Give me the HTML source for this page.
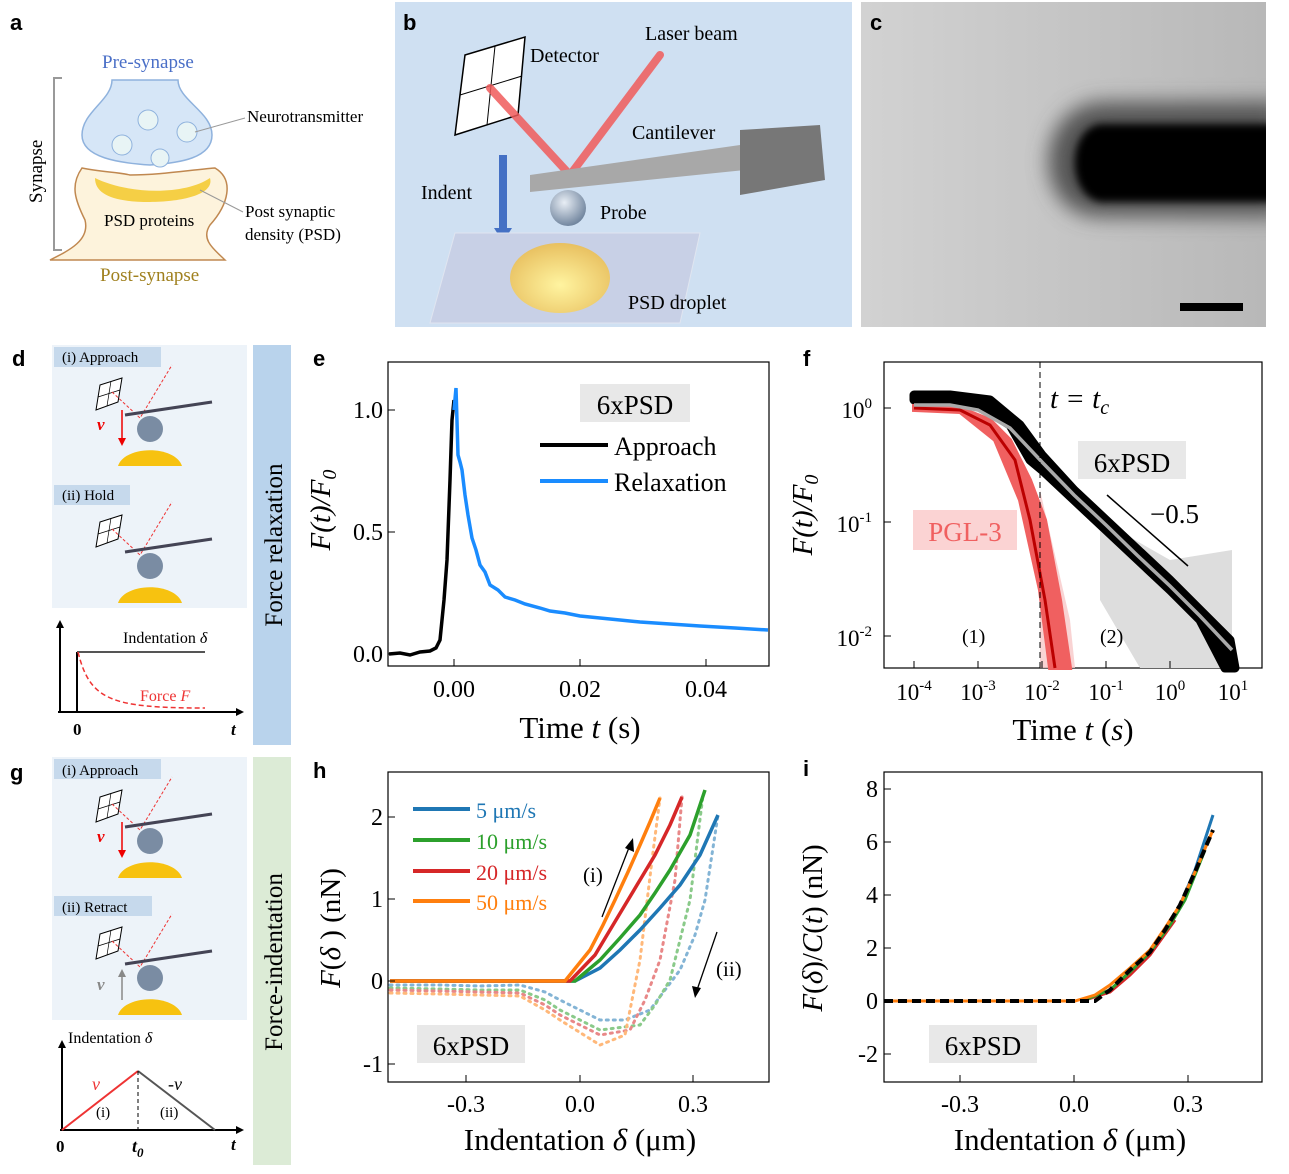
<!DOCTYPE html>
<html><head><meta charset="utf-8"><style>
html,body{margin:0;padding:0;background:#fff}
svg{display:block}
text{font-family:"Liberation Serif",serif;fill:#000}
.L{font-family:"Liberation Sans",sans-serif;font-weight:bold;font-size:22px}
</style></head><body>
<svg width="1289" height="1174" viewBox="0 0 1289 1174" xmlns="http://www.w3.org/2000/svg">
<defs>
<linearGradient id="cg" x1="0" x2="1"><stop offset="0" stop-color="#d2d2d2"/><stop offset="1" stop-color="#b8b8b8"/></linearGradient>
<radialGradient id="ball" cx="0.4" cy="0.35" r="0.7"><stop offset="0" stop-color="#e8eef5"/><stop offset="1" stop-color="#6a7f99"/></radialGradient>
<radialGradient id="drop" cx="0.5" cy="0.6" r="0.6"><stop offset="0" stop-color="#fff4a0"/><stop offset="1" stop-color="#e8c060"/></radialGradient>
<filter id="bl" x="-20%" y="-50%" width="140%" height="200%"><feGaussianBlur stdDeviation="10"/></filter>
<filter id="bl2" x="-20%" y="-50%" width="140%" height="200%"><feGaussianBlur stdDeviation="4"/></filter>
</defs>
<!-- a -->
<text class="L" x="10" y="30">a</text>
<text x="102" y="68" font-size="19" style="fill:#4a6fc7">Pre-synapse</text>
<path d="M62 78 H54 V250 H62" fill="none" stroke="#999" stroke-width="2"/>
<text x="42" y="203" font-size="19" transform="rotate(-90 42 203)" font-family="Liberation Sans">Synapse</text>
<path d="M82 168 C100 172 118 172 130 175 C160 175 190 170 215 168 C235 180 228 205 210 225 C200 240 215 250 225 260 L50 260 C70 250 90 240 85 220 C75 200 70 185 82 168Z" fill="#fdf3dc" stroke="#c08850" stroke-width="1.5"/>
<path d="M95 178 C130 195 185 195 210 178 C215 195 180 202 150 202 C115 202 95 195 95 178Z" fill="#f5cf45"/>
<path d="M112 80 C112 100 82 112 82 135 C82 158 120 163 150 165 C180 163 212 158 212 135 C212 112 178 100 178 80 Z" fill="#d6e6f7" stroke="#8fb2dd" stroke-width="1.5"/>
<circle cx="148" cy="120" r="10" fill="#e8f4f5" stroke="#8fb2dd"/><circle cx="122" cy="145" r="10" fill="#e8f4f5" stroke="#8fb2dd"/><circle cx="187" cy="132" r="10" fill="#e8f4f5" stroke="#8fb2dd"/><circle cx="160" cy="158" r="9" fill="#e8f4f5" stroke="#8fb2dd"/>
<text x="104" y="226" font-size="17">PSD proteins</text>
<text x="100" y="281" font-size="19" style="fill:#a0801e">Post-synapse</text>
<line x1="195" y1="132" x2="245" y2="118" stroke="#999"/>
<text x="247" y="122" font-size="17">Neurotransmitter</text>
<line x1="200" y1="190" x2="243" y2="212" stroke="#999"/>
<text x="245" y="217" font-size="17">Post synaptic</text><text x="245" y="240" font-size="17">density (PSD)</text>
<!-- b -->
<rect x="395" y="2" width="457" height="325" fill="#cfe0f2"/>
<text class="L" x="403" y="30">b</text>
<path d="M465 55 L525 37 L518 115 L455 135Z" fill="#fff" stroke="#000" stroke-width="1.5"/>
<line x1="495" y1="46" x2="487" y2="125" stroke="#000"/><line x1="460" y1="95" x2="522" y2="76" stroke="#000"/>
<path d="M490 88 L570 175 L660 55" fill="none" stroke="#f05a5a" stroke-width="8" stroke-linecap="round" opacity="0.85"/>
<text x="530" y="62" font-size="20">Detector</text><text x="645" y="40" font-size="20">Laser beam</text>
<path d="M530 175 L740 145 L745 170 L530 192Z" fill="#a8a8a8"/>
<path d="M740 130 L820 125 L825 180 L740 195Z" fill="#777"/>
<text x="632" y="139" font-size="20">Cantilever</text>
<circle cx="568" cy="208" r="18" fill="url(#ball)"/>
<text x="600" y="219" font-size="20">Probe</text>
<rect x="499" y="155" width="8" height="75" fill="#4470c4"/><path d="M494 228 L512 228 L503 242Z" fill="#4470c4"/>
<text x="421" y="199" font-size="20">Indent</text>
<path d="M455 233 L700 233 L680 323 L430 323Z" fill="#c8d0e6" stroke="#e0e5f0"/>
<ellipse cx="560" cy="278" rx="50" ry="35" fill="url(#drop)"/>
<text x="628" y="309" font-size="20">PSD droplet</text>
<!-- c -->
<svg x="861" y="2" width="405" height="325" overflow="hidden">
<rect width="405" height="325" fill="url(#cg)"/>
<path d="M420 100 L240 100 C170 105 170 215 240 215 L420 215Z" fill="#555" filter="url(#bl)"/>
<path d="M420 122 L240 122 C205 126 205 195 240 200 L420 200Z" fill="#000" filter="url(#bl2)"/>
</svg>
<text class="L" x="870" y="30">c</text>
<rect x="1180" y="303" width="63" height="8" fill="#000"/>
<!-- d -->
<text class="L" x="12" y="366">d</text>
<rect x="52" y="345" width="195" height="263" fill="#edf3f9"/>
<rect x="54" y="347" width="107" height="20" fill="#c6d9ec"/><text x="62" y="362" font-size="15">(i) Approach</text>
<rect x="54" y="485" width="76" height="20" fill="#c6d9ec"/><text x="62" y="500" font-size="15">(ii) Hold</text>
<g id="setup">
<path d="M100 385 L122 378 L118 402 L96 410Z" fill="#fff" stroke="#000"/>
<line x1="111" y1="381" x2="107" y2="406" stroke="#000" stroke-width="0.7"/><line x1="98" y1="397" x2="120" y2="390" stroke="#000" stroke-width="0.7"/>
<path d="M112 392 L140 418 L172 365" fill="none" stroke="#e33" stroke-dasharray="3,2"/>
<path d="M125 415 L212 402" stroke="#445" stroke-width="3"/>
<circle cx="150" cy="429" r="13" fill="#7a8ca3"/>
<path d="M118 466 C125 445 175 445 182 466Z" fill="#f7c210"/>
</g>
<line x1="122" y1="410" x2="122" y2="440" stroke="#e00" stroke-width="1.5"/><path d="M118 438 L126 438 L122 446Z" fill="#e00"/>
<text x="97" y="430" font-size="17" font-style="italic" font-weight="bold" style="fill:#e00">v</text>
<use href="#setup" transform="translate(0,137)"/>
<line x1="58" y1="712" x2="240" y2="712" stroke="#000" stroke-width="2"/><line x1="60" y1="712" x2="60" y2="625" stroke="#000" stroke-width="2"/>
<path d="M56 628 L60 620 L64 628Z"/><path d="M236 708 L244 712 L236 716Z"/>
<line x1="77" y1="712" x2="77" y2="652" stroke="#000" stroke-width="2"/><line x1="77" y1="652" x2="205" y2="652" stroke="#555" stroke-width="2"/>
<path d="M78 652 C90 700 110 708 205 708" fill="none" stroke="#e33" stroke-width="1.5" stroke-dasharray="5,3"/>
<text x="123" y="643" font-size="16">Indentation <tspan font-style="italic">δ</tspan></text>
<text x="140" y="701" font-size="16" style="fill:#e33">Force <tspan font-style="italic">F</tspan></text>
<text x="73" y="735" font-size="17" font-weight="bold">0</text><text x="231" y="735" font-size="17" font-weight="bold" font-style="italic">t</text>
<rect x="253" y="345" width="38" height="400" fill="#b9d3ec"/>
<text x="282" y="545" font-size="25" text-anchor="middle" transform="rotate(-90 282 545)" font-family="Liberation Sans">Force relaxation</text>
<!-- e -->
<text class="L" x="313" y="366">e</text>
<rect x="388" y="362" width="381" height="304" fill="none" stroke="#000" stroke-width="1.2"/>
<g stroke="#000"><line x1="454" y1="666" x2="454" y2="659"/><line x1="580" y1="666" x2="580" y2="659"/><line x1="706" y1="666" x2="706" y2="659"/>
<line x1="388" y1="654" x2="395" y2="654"/><line x1="388" y1="532" x2="395" y2="532"/><line x1="388" y1="410" x2="395" y2="410"/></g>
<g font-size="24" text-anchor="middle"><text x="454" y="697">0.00</text><text x="580" y="697">0.02</text><text x="706" y="697">0.04</text></g>
<g font-size="24" text-anchor="end"><text x="383" y="662">0.0</text><text x="383" y="540">0.5</text><text x="383" y="418">1.0</text></g>
<text x="580" y="738" font-size="31" text-anchor="middle">Time <tspan font-style="italic">t</tspan> (s)</text>
<text x="330" y="510" font-size="29" text-anchor="middle" transform="rotate(-90 330 510)" font-style="italic">F(t)/F<tspan font-size="20" dy="6">0</tspan></text>
<rect x="580" y="384" width="110" height="38" fill="#e8e8e8"/><text x="635" y="414" font-size="27" text-anchor="middle">6xPSD</text>
<line x1="540" y1="445" x2="608" y2="445" stroke="#000" stroke-width="4"/><text x="614" y="455" font-size="26">Approach</text>
<line x1="540" y1="481" x2="608" y2="481" stroke="#1a8cff" stroke-width="4"/><text x="614" y="491" font-size="26">Relaxation</text>
<path d="M389 654 L400 653 L410 655 L420 652 L430 651 L436 648 L440 640 L444 600 L447 560 L450 480 L452 420 L454 400" fill="none" stroke="#000" stroke-width="3.5"/>
<path d="M454 410 L456 388 L458 455 L460 462 L462 470 L465 495 L468 515 L472 538 L476 550 L480 565 L485 572 L490 585 L498 590 L505 597 L515 600 L525 604 L540 608 L550 611 L565 613 L580 616 L610 619 L640 622 L670 624 L700 626 L735 628 L768 630" fill="none" stroke="#1a8cff" stroke-width="3.5"/>
<!-- f -->
<text class="L" x="803" y="366">f</text>
<rect x="884" y="362" width="378" height="306" fill="none" stroke="#000" stroke-width="1.2"/>
<path d="M1040 490 L1070 620 L1075 668 L1040 668Z" fill="#f8c8c8" opacity="0.8"/>
<path d="M1100 520 L1170 560 L1232 550 L1232 668 L1140 668 L1100 600Z" fill="#ddd"/>
<path d="M914 400 L950 400 L978 405 L1010 425 L1030 460 L1042 470 L1074 500 L1106 530 L1138 560 L1170 590 L1200 620 L1225 668 L1235 668 L1230 640 L1200 610 L1170 580 L1138 550 L1106 520 L1074 490 L1042 455 L1020 425 L990 400 L950 395 L914 395Z" fill="#000" stroke="#000" stroke-width="9" stroke-linejoin="round"/>
<path d="M914 406 L960 408 L990 420 L1010 440 L1030 480 L1045 520 L1060 600 L1070 668 L1050 668 L1040 590 L1020 500 L995 440 L960 412 L914 410Z" fill="#f06060" stroke="#f06060" stroke-width="4"/>
<path d="M914 408 L960 410 L990 425 L1015 460 L1030 520 L1045 600 L1055 668" fill="none" stroke="#b00" stroke-width="3"/>
<path d="M914 405 L950 405 L978 410 L1010 428 L1042 462 L1074 495 L1106 525 L1138 556 L1170 586 L1200 616 L1232 650" fill="none" stroke="#aaa" stroke-width="3.5"/>
<line x1="1040" y1="362" x2="1040" y2="668" stroke="#000" stroke-dasharray="6,4"/>
<line x1="1107" y1="495" x2="1188" y2="566" stroke="#000" stroke-width="1.5"/>
<text x="1150" y="523" font-size="27">−0.5</text>
<text x="1050" y="408" font-size="29" font-style="italic">t = t<tspan font-size="20" dy="6">c</tspan></text>
<rect x="1078" y="441" width="108" height="38" fill="#e8e8e8"/><text x="1132" y="472" font-size="27" text-anchor="middle">6xPSD</text>
<rect x="913" y="510" width="104" height="40" fill="#fbd3d3"/><text x="965" y="541" font-size="27" text-anchor="middle" style="fill:#f06060">PGL-3</text>
<text x="962" y="643" font-size="20">(1)</text><text x="1100" y="643" font-size="20">(2)</text>
<g stroke="#000"><line x1="914" y1="668" x2="914" y2="661"/><line x1="978" y1="668" x2="978" y2="661"/><line x1="1042" y1="668" x2="1042" y2="661"/><line x1="1106" y1="668" x2="1106" y2="661"/><line x1="1170" y1="668" x2="1170" y2="661"/><line x1="1233" y1="668" x2="1233" y2="661"/>
<line x1="884" y1="408" x2="891" y2="408"/><line x1="884" y1="522" x2="891" y2="522"/><line x1="884" y1="636" x2="891" y2="636"/></g>
<g font-size="23" text-anchor="middle"><text x="914" y="700">10<tspan font-size="15" dy="-10">-4</tspan></text><text x="978" y="700">10<tspan font-size="15" dy="-10">-3</tspan></text><text x="1042" y="700">10<tspan font-size="15" dy="-10">-2</tspan></text><text x="1106" y="700">10<tspan font-size="15" dy="-10">-1</tspan></text><text x="1170" y="700">10<tspan font-size="15" dy="-10">0</tspan></text><text x="1233" y="700">10<tspan font-size="15" dy="-10">1</tspan></text></g>
<g font-size="23" text-anchor="end"><text x="872" y="418">10<tspan font-size="15" dy="-10">0</tspan></text><text x="872" y="532">10<tspan font-size="15" dy="-10">-1</tspan></text><text x="872" y="646">10<tspan font-size="15" dy="-10">-2</tspan></text></g>
<text x="1073" y="740" font-size="31" text-anchor="middle">Time <tspan font-style="italic">t</tspan> (<tspan font-style="italic">s</tspan>)</text>
<text x="812" y="515" font-size="29" text-anchor="middle" transform="rotate(-90 812 515)" font-style="italic">F(t)/F<tspan font-size="20" dy="6">0</tspan></text>
<!-- g -->
<text class="L" x="10" y="780">g</text>
<rect x="52" y="757" width="195" height="263" fill="#edf3f9"/>
<rect x="54" y="759" width="107" height="20" fill="#c6d9ec"/><text x="62" y="775" font-size="15">(i) Approach</text>
<rect x="54" y="896" width="98" height="20" fill="#c6d9ec"/><text x="62" y="912" font-size="15">(ii) Retract</text>
<use href="#setup" transform="translate(0,412)"/>
<line x1="122" y1="822" x2="122" y2="852" stroke="#e00" stroke-width="1.5"/><path d="M118 850 L126 850 L122 858Z" fill="#e00"/>
<text x="97" y="842" font-size="17" font-style="italic" font-weight="bold" style="fill:#e00">v</text>
<use href="#setup" transform="translate(0,549)"/>
<line x1="122" y1="1000" x2="122" y2="975" stroke="#888" stroke-width="1.5"/><path d="M118 977 L126 977 L122 969Z" fill="#888"/>
<text x="97" y="990" font-size="17" font-style="italic" font-weight="bold" style="fill:#888">v</text>
<line x1="60" y1="1130" x2="240" y2="1130" stroke="#000" stroke-width="2"/><line x1="62" y1="1130" x2="62" y2="1045" stroke="#000" stroke-width="2"/>
<path d="M58 1048 L62 1040 L66 1048Z"/><path d="M236 1126 L244 1130 L236 1134Z"/>
<path d="M62 1130 L138 1071" stroke="#e33" stroke-width="2"/><path d="M138 1071 L215 1130" stroke="#555" stroke-width="2"/>
<line x1="138" y1="1071" x2="138" y2="1130" stroke="#000" stroke-dasharray="4,3"/>
<text x="68" y="1043" font-size="16">Indentation <tspan font-style="italic">δ</tspan></text>
<text x="92" y="1090" font-size="18" font-style="italic" style="fill:#e33">v</text><text x="168" y="1090" font-size="18" font-style="italic">-v</text>
<text x="96" y="1117" font-size="15">(i)</text><text x="160" y="1117" font-size="15">(ii)</text>
<text x="56" y="1152" font-size="17" font-weight="bold">0</text><text x="132" y="1152" font-size="18" font-weight="bold" font-style="italic">t<tspan font-size="13" dy="5">0</tspan></text><text x="231" y="1150" font-size="17" font-weight="bold" font-style="italic">t</text>
<rect x="253" y="757" width="38" height="408" fill="#dcebd6"/>
<text x="282" y="962" font-size="25" text-anchor="middle" transform="rotate(-90 282 962)" font-family="Liberation Sans">Force-indentation</text>
<!-- h -->
<text class="L" x="313" y="778">h</text>
<rect x="388" y="772" width="381" height="310" fill="none" stroke="#000" stroke-width="1.2"/>
<g fill="none" stroke-width="3" stroke-dasharray="2,5" stroke-linecap="round" opacity="0.55">
<path d="M390 985 L440 985 L480 986 L520 985 L545 992 L560 1000 L580 1010 L600 1020 L625 1020 L650 1010 L665 990 L680 970 L695 935 L705 900 L718 815" stroke="#1f77b4"/>
<path d="M390 988 L440 989 L480 990 L520 990 L545 1000 L560 1010 L600 1030 L640 1025 L655 1005 L670 980 L680 940 L690 900 L703 795" stroke="#2ca02c"/>
<path d="M390 990 L440 991 L480 992 L520 993 L545 1005 L560 1015 L600 1035 L630 1030 L645 1000 L660 960 L675 880 L682 797" stroke="#d62728"/>
<path d="M390 993 L440 994 L480 995 L520 996 L545 1010 L560 1020 L600 1045 L625 1035 L632 1000 L640 960 L652 860 L660 798" stroke="#ff7f0e"/>
</g>
<g fill="none" stroke-width="3.5">
<path d="M390 981 L575 981 L600 968 L620 950 L640 930 L660 908 L680 885 L700 855 L718 815" stroke="#1f77b4"/>
<path d="M390 981 L575 981 L600 960 L620 938 L640 915 L655 893 L670 870 L690 835 L705 790" stroke="#2ca02c"/>
<path d="M390 981 L570 981 L595 955 L610 930 L625 905 L640 880 L655 855 L670 825 L682 797" stroke="#d62728"/>
<path d="M390 981 L565 981 L590 950 L603 925 L615 900 L628 872 L640 845 L650 822 L660 798" stroke="#ff7f0e"/>
</g>
<line x1="413" y1="809" x2="470" y2="809" stroke="#1f77b4" stroke-width="4"/><text x="476" y="818" font-size="22" style="fill:#1f77b4">5 μm/s</text>
<line x1="413" y1="840" x2="470" y2="840" stroke="#2ca02c" stroke-width="4"/><text x="476" y="849" font-size="22" style="fill:#2ca02c">10 μm/s</text>
<line x1="413" y1="871" x2="470" y2="871" stroke="#d62728" stroke-width="4"/><text x="476" y="880" font-size="22" style="fill:#d62728">20 μm/s</text>
<line x1="413" y1="901" x2="470" y2="901" stroke="#ff7f0e" stroke-width="4"/><text x="476" y="910" font-size="22" style="fill:#ff7f0e">50 μm/s</text>
<line x1="602" y1="917" x2="630" y2="845" stroke="#000" stroke-width="1.3"/><path d="M625 848 L633 838 L634 852Z"/>
<text x="583" y="882" font-size="21">(i)</text>
<line x1="717" y1="932" x2="697" y2="990" stroke="#000" stroke-width="1.3"/><path d="M692 986 L695 998 L701 988Z"/>
<text x="716" y="976" font-size="21">(ii)</text>
<rect x="417" y="1025" width="108" height="38" fill="#e8e8e8"/><text x="471" y="1055" font-size="27" text-anchor="middle">6xPSD</text>
<g stroke="#000"><line x1="466" y1="1082" x2="466" y2="1075"/><line x1="580" y1="1082" x2="580" y2="1075"/><line x1="693" y1="1082" x2="693" y2="1075"/>
<line x1="388" y1="817" x2="395" y2="817"/><line x1="388" y1="899" x2="395" y2="899"/><line x1="388" y1="981" x2="395" y2="981"/><line x1="388" y1="1064" x2="395" y2="1064"/></g>
<g font-size="24" text-anchor="middle"><text x="466" y="1112">-0.3</text><text x="580" y="1112">0.0</text><text x="693" y="1112">0.3</text></g>
<g font-size="24" text-anchor="end"><text x="383" y="825">2</text><text x="383" y="907">1</text><text x="383" y="989">0</text><text x="383" y="1072">-1</text></g>
<text x="580" y="1150" font-size="31" text-anchor="middle">Indentation <tspan font-style="italic">δ</tspan>  (μm)</text>
<text x="340" y="928" font-size="29" text-anchor="middle" transform="rotate(-90 340 928)"><tspan font-style="italic">F</tspan>(<tspan font-style="italic">δ</tspan> )  (nN)</text>
<!-- i -->
<text class="L" x="803" y="776">i</text>
<rect x="884" y="772" width="378" height="310" fill="none" stroke="#000" stroke-width="1.2"/>
<path d="M1080 1001 L1110 990 L1130 972 L1150 950 L1165 930 L1180 905 L1195 870 L1213 815" fill="none" stroke="#1f77b4" stroke-width="3"/>
<path d="M1082 1001 L1110 992 L1130 975 L1150 955 L1175 920" fill="none" stroke="#d62728" stroke-width="3"/>
<path d="M1082 1001 L1110 990 L1130 972 L1150 952 L1170 925 L1185 900 L1205 850" fill="none" stroke="#2ca02c" stroke-width="3"/>
<path d="M884 1001 L1075 1001 L1095 995 L1110 985 L1130 968 L1150 950 L1165 928 L1180 905 L1195 872 L1213 830" fill="none" stroke="#ff7f0e" stroke-width="3"/>
<path d="M884 1001 L1095 1001 L1110 990 L1130 970 L1150 952 L1165 930 L1180 905 L1195 872 L1213 830" fill="none" stroke="#000" stroke-width="4" stroke-dasharray="9,5"/>
<rect x="929" y="1025" width="108" height="38" fill="#e8e8e8"/><text x="983" y="1055" font-size="27" text-anchor="middle">6xPSD</text>
<g stroke="#000"><line x1="960" y1="1082" x2="960" y2="1075"/><line x1="1074" y1="1082" x2="1074" y2="1075"/><line x1="1188" y1="1082" x2="1188" y2="1075"/>
<line x1="884" y1="789" x2="891" y2="789"/><line x1="884" y1="842" x2="891" y2="842"/><line x1="884" y1="895" x2="891" y2="895"/><line x1="884" y1="948" x2="891" y2="948"/><line x1="884" y1="1001" x2="891" y2="1001"/><line x1="884" y1="1054" x2="891" y2="1054"/></g>
<g font-size="24" text-anchor="middle"><text x="960" y="1112">-0.3</text><text x="1074" y="1112">0.0</text><text x="1188" y="1112">0.3</text></g>
<g font-size="24" text-anchor="end"><text x="878" y="797">8</text><text x="878" y="850">6</text><text x="878" y="903">4</text><text x="878" y="956">2</text><text x="878" y="1009">0</text><text x="878" y="1062">-2</text></g>
<text x="1070" y="1150" font-size="31" text-anchor="middle">Indentation <tspan font-style="italic">δ</tspan>  (μm)</text>
<text x="822" y="928" font-size="29" text-anchor="middle" transform="rotate(-90 822 928)"><tspan font-style="italic">F</tspan>(<tspan font-style="italic">δ</tspan>)/<tspan font-style="italic">C</tspan>(<tspan font-style="italic">t</tspan>)  (nN)</text>
</svg>
</body></html>
